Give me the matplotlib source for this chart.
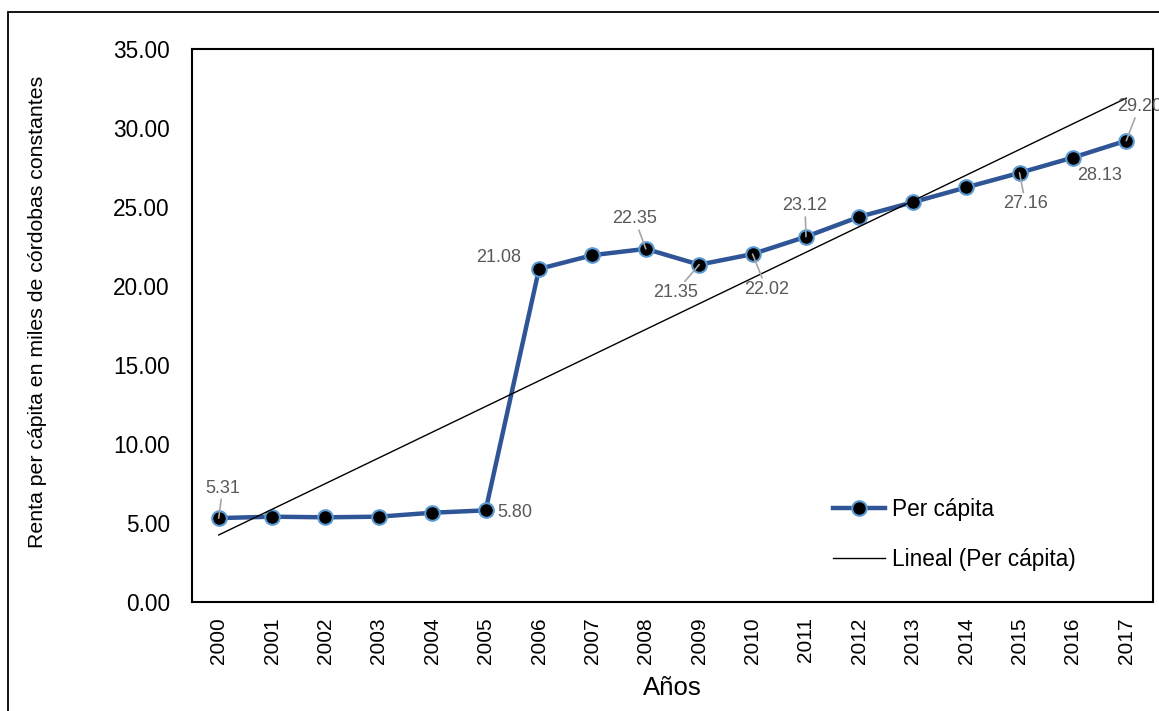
import numpy as np
import matplotlib
matplotlib.use("Agg")
import matplotlib.pyplot as plt
from matplotlib.patches import Rectangle

plt.rcParams['font.family'] = ['Liberation Sans', 'DejaVu Sans']

years = [str(y) for y in range(2000, 2018)]
per_capita = [5.31, 5.40, 5.36, 5.40, 5.65, 5.80, 21.08, 21.95, 22.35, 21.35,
              22.02, 23.12, 24.38, 25.30, 26.24, 27.16, 28.13, 29.20]
y_ticks = [0, 5, 10, 15, 20, 25, 30, 35]

# labelled points: index -> text offset in pixels (dx, dy)
label_offsets = {0: (4, 30), 5: (29, -2), 6: (-40, 11), 8: (-11, 30),
                 9: (-24, -28), 10: (14, -35), 11: (-1, 31), 15: (6, -31),
                 16: (27, -18), 17: (13, 34)}
# labels drawn with a leader line to the point
leader = {0, 8, 9, 10, 11, 15, 17}

W, H = 1159, 711
fig = plt.figure(figsize=(W / 100, H / 100), dpi=100)
ax = fig.add_axes([192 / W, 1 - 602 / H, (1153 - 192) / W, (602 - 49) / H])

x = np.arange(len(years))
ax.plot(x, per_capita, color='#2F5597', lw=3.2, marker='o', ms=10.5,
        mfc='black', mec='#5B9BD5', mew=1.5, zorder=3, label='Per cápita')

slope, intercept = np.polyfit(x, per_capita, 1)
ax.plot(x, slope * x + intercept, color='black', lw=1.0, zorder=4,
        label='Lineal (Per cápita)')

for i, (dx, dy) in label_offsets.items():
    kw = {}
    if i in leader:
        kw['arrowprops'] = dict(arrowstyle='-', color='#A6A6A6', lw=1.2,
                                shrinkA=0, shrinkB=0)
    ax.annotate(f"{per_capita[i]:.2f}", xy=(x[i], per_capita[i]),
                xytext=(dx, dy), textcoords='offset pixels',
                ha='center', va='center', fontsize=13, color='#595959',
                annotation_clip=False, zorder=5, **kw)

ax.set_xlim(-0.5, len(years) - 0.5)
ax.set_ylim(0, 35)
ax.set_xticks(x)
ax.set_xticklabels(years, rotation=90, fontsize=15)
ax.set_yticks(y_ticks)
ax.set_yticklabels([f"{v:.2f}" for v in y_ticks], fontsize=16.3)
ax.tick_params(axis='both', length=0)
ax.tick_params(axis='y', pad=16)
ax.tick_params(axis='x', pad=11)
for s in ax.spines.values():
    s.set_linewidth(1.5)
    s.set_color('black')

fig.text(38 / W, 1 - 312 / H, 'Renta per cápita en miles de córdobas constantes',
         rotation=90, ha='center', va='center', fontsize=15.3)
fig.text(672 / W, 1 - 688 / H, 'Años', ha='center', va='center', fontsize=18.5)

ax.legend(loc='upper left', bbox_to_anchor=((833 - 192) / 961, (602 - 498) / 553),
          frameon=False, fontsize=16.3, handlelength=2.3, handletextpad=0.3,
          labelspacing=1.2, borderpad=0, borderaxespad=0, numpoints=1)

# outer chart frame (top and left edges visible)
fig.add_artist(Rectangle((8 / W, -0.2), 1.2, (1 - 12 / H) + 0.2,
                         transform=fig.transFigure, fill=False,
                         ec='black', lw=1.3, clip_on=False))

fig.savefig('out.png', dpi=100)
